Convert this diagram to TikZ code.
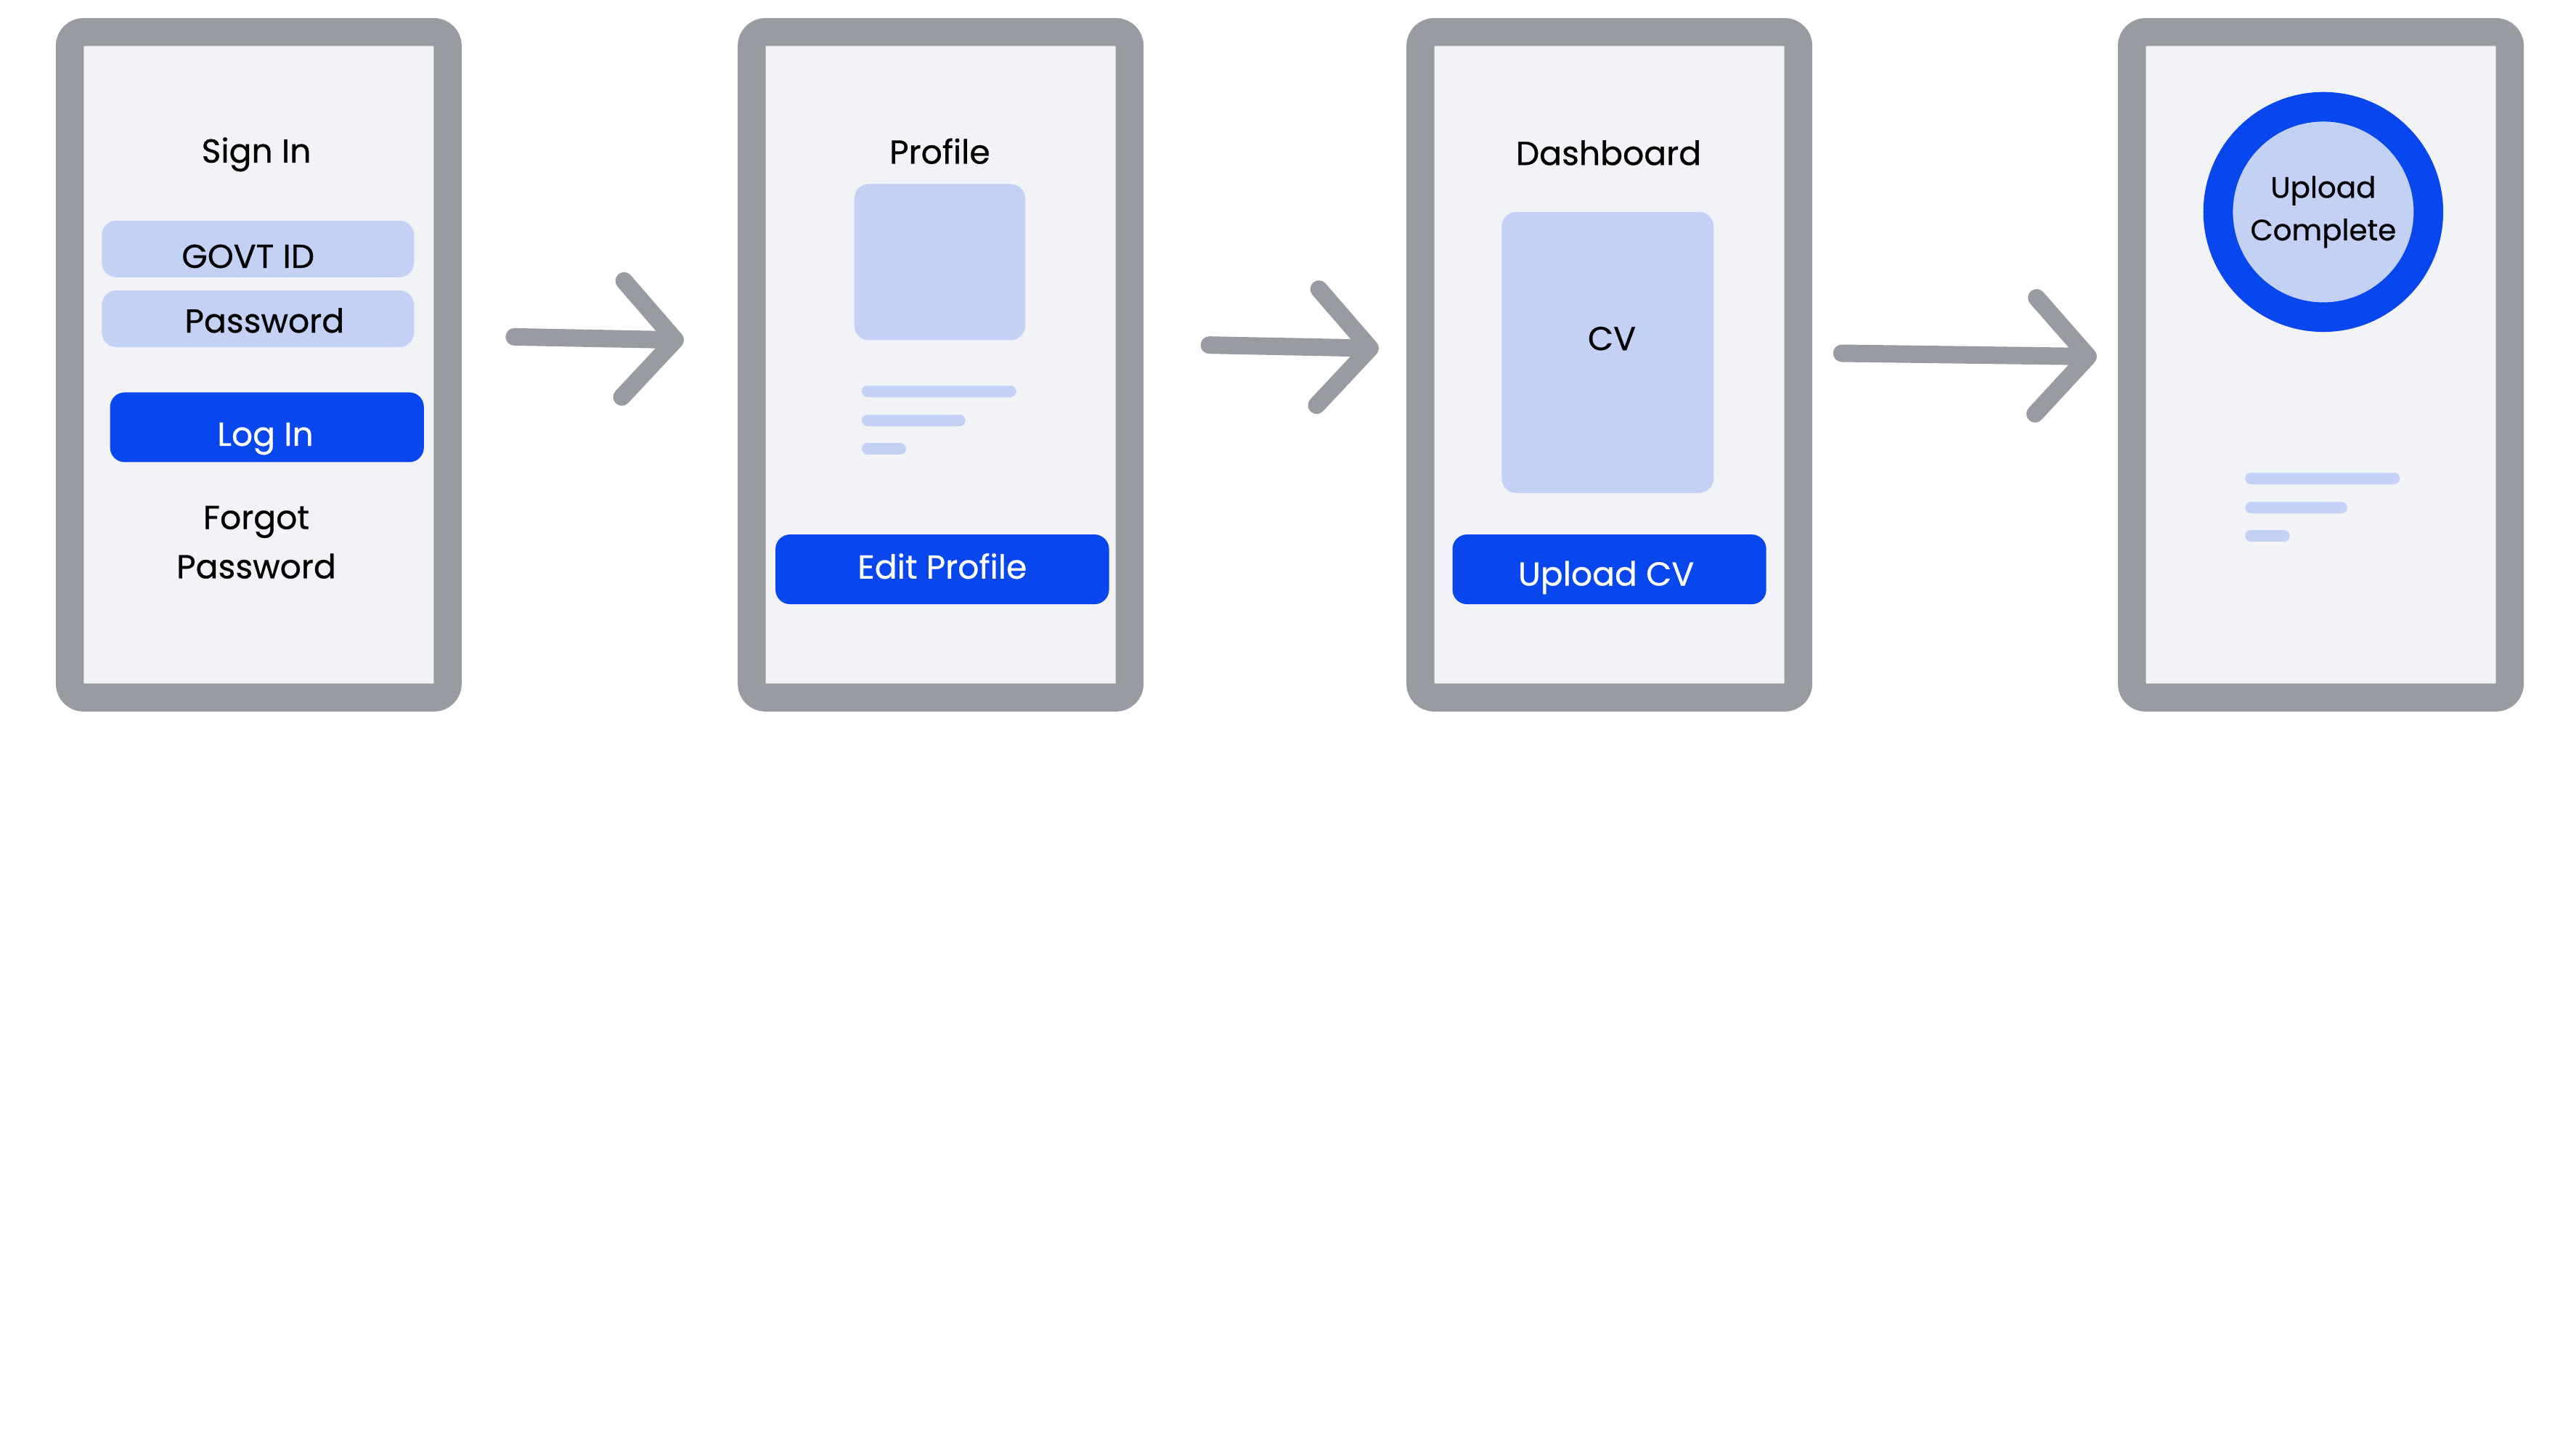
\documentclass[tikz,border=0pt]{standalone}
\usepackage{fontspec}
\setmainfont{Poppins}[FakeBold=0.6,AutoFakeBold=0.6]
\usepackage{xcolor}
\usepackage{tikz}
\usetikzlibrary{arrows.meta}

\definecolor{framegray}{HTML}{989BA2}
\definecolor{screenbg}{HTML}{F2F3F7}
\definecolor{appblue}{HTML}{0847EE}
\definecolor{paleblue}{HTML}{C3D1F5}

\tikzset{
  phone/.style={draw=framegray, fill=screenbg, line width=0.385cm, rounded corners=0.19cm,
    minimum width=5.205cm, minimum height=9.165cm, inner sep=0pt},
  title/.style={font=\fontsize{13}{19.3}\bfseries\selectfont, inner sep=0pt},
  field/.style={fill=paleblue, rounded corners=0.2cm, minimum width=4.3cm, minimum height=0.78cm,
    inner sep=0pt},
  button/.style={fill=appblue, rounded corners=0.2cm, minimum height=0.96cm, inner sep=0pt},
  btntext/.style={title, text=white},
  picbox/.style={fill=paleblue, rounded corners=0.2cm, inner sep=0pt},
  bar/.style={paleblue, line width=0.16cm, line cap=round},
  flow/.style={framegray, line width=0.24cm, line cap=round,
    -{Straight Barb[length=0.72cm, width=1.6cm, round]}}
}

\begin{document}
\begin{tikzpicture}
\useasboundingbox (0,0) rectangle (35.48,-19.89);

    % the four screens
    \node[phone] (signin) at (3.564,-5.024) {};
    \node[phone] (profile) at (12.956,-5.024) {};
    \node[phone] (dash) at (22.166,-5.024) {};
    \node[phone] (done) at (31.965,-5.024) {};

    % sign in screen
    \node[title] (signtitle) at (3.530,-2.127) {Sign In};
    \node[field] (govtid) at (3.553,-3.428) {};
    \node[title] (govttext) at (3.417,-3.530) {GOVT ID};
    \node[field] (pwd) at (3.553,-4.390) {};
    \node[title] (pwdtext) at (3.643,-4.413) {Password};
    \node[button, minimum width=4.322cm] (login) at (3.677,-5.884) {};
    \node[btntext] (logintext) at (3.655,-6.042) {Log In};
    \node[title, align=center] (forgot) at (3.530,-7.468) {Forgot\\Password};

    % profile screen
    \node[title] (proftitle) at (12.944,-2.082) {Profile};
    \node[picbox, minimum width=2.354cm, minimum height=2.150cm] (avatar) at (12.944,-3.609) {};
    \draw[bar] (11.949,-5.386) -- (13.917,-5.386);
    \draw[bar] (11.949,-5.793) -- (13.216,-5.793);
    \draw[bar] (11.949,-6.178) -- (12.401,-6.178);
    \node[button, minimum width=4.594cm] (edit) at (12.978,-7.841) {};
    \node[btntext] (edittext) at (12.978,-7.796) {Edit Profile};

    % dashboard screen
    \node[title] (dashtitle) at (22.155,-2.105) {Dashboard};
    \node[picbox, minimum width=2.919cm, minimum height=3.870cm] (cvbox) at (22.143,-4.854) {};
    \node[title] (cvtext) at (22.200,-4.662) {CV};
    \node[button, minimum width=4.322cm] (upload) at (22.166,-7.841) {};
    \node[btntext] (uploadtext) at (22.121,-7.954) {Upload CV};

    % upload complete screen
    \node[circle, draw=appblue, fill=paleblue, line width=0.407cm, minimum size=2.897cm,
      inner sep=0pt, align=center, font=\fontsize{11.5}{16.7}\bfseries\selectfont] (ring) at (31.999,-2.919)
      {Upload\\Complete};
    \draw[bar] (31.003,-6.585) -- (32.972,-6.585);
    \draw[bar] (31.003,-6.993) -- (32.248,-6.993);
    \draw[bar] (31.003,-7.377) -- (31.456,-7.377);

    % the arrows between screens
    \coordinate (s1) at (7.083,-4.639);
    \coordinate (e1) at (9.420,-4.684);
    \coordinate (s2) at (16.656,-4.752);
    \coordinate (e2) at (18.990,-4.798);
    \coordinate (s3) at (25.368,-4.865);
    \coordinate (e3) at (28.880,-4.911);
    \draw[flow] (s1) -- (e1);
    \draw[flow] (s2) -- (e2);
    \draw[flow] (s3) -- (e3);

\end{tikzpicture}
\end{document}
